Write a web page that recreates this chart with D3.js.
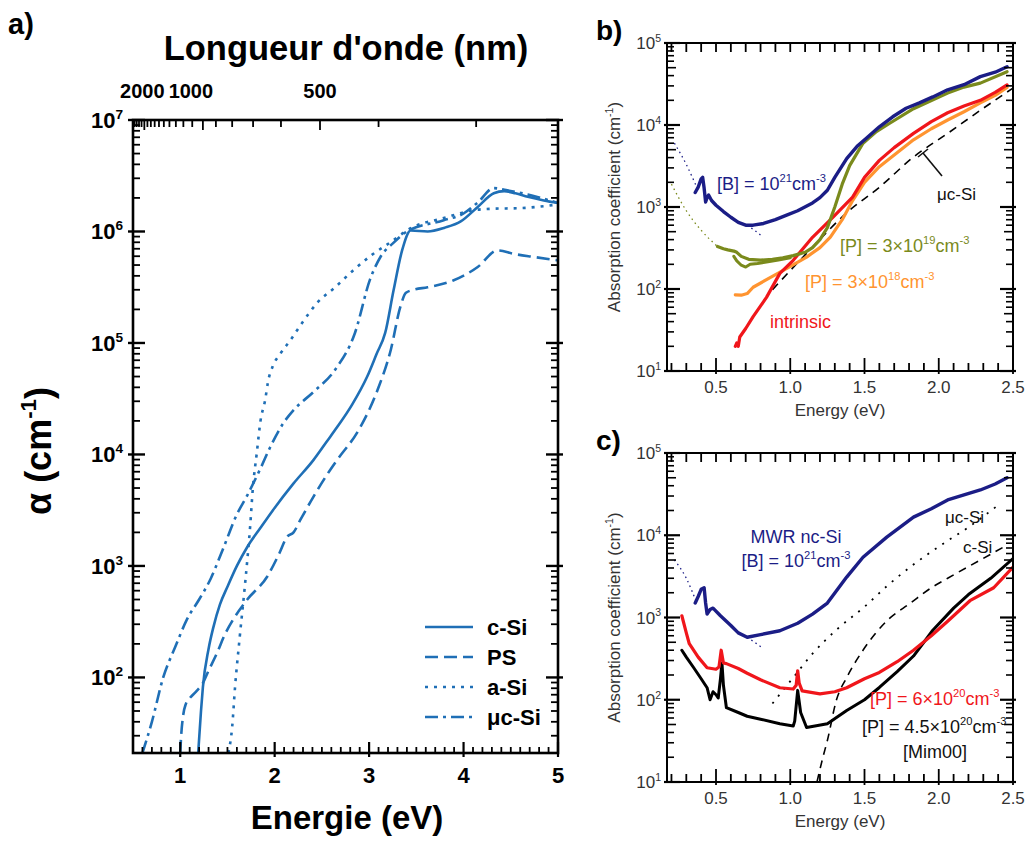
<!DOCTYPE html>
<html><head><meta charset="utf-8">
<script src="https://cdn.jsdelivr.net/npm/d3@7"></script>
<style>body{margin:0;background:#fff}svg{display:block}</style>
</head><body>
<svg id="fig" width="1032" height="843"></svg>
<script>
// ---------------- DATA ----------------
// Panel a : [energy (eV), alpha (cm-1)]
const aCSi = [[1.19,21],[1.22,50],[1.24,82],[1.3,180],[1.35,280],[1.42,450],[1.5,650],[1.6,1000],[1.71,1480],[1.85,2200],[1.98,3150],[2.2,5500],[2.41,8900],[2.55,13000],[2.66,17500],[2.82,28000],[2.98,50000],[3.08,80000],[3.17,123000],[3.26,300000],[3.35,680000],[3.44,1020000],[3.62,1000000],[3.8,1080000],[3.97,1230000],[4.15,1660000],[4.32,2200000],[4.43,2300000],[4.55,2200000],[4.68,2050000],[4.85,1900000],[5.0,1800000]];
const aPS = [[1.0,21],[1.01,30],[1.03,45],[1.06,58],[1.1,65],[1.17,75],[1.24,89],[1.3,115],[1.39,166],[1.47,240],[1.56,330],[1.71,500],[1.92,800],[2.05,1300],[2.13,1820],[2.2,2000],[2.27,2570],[2.41,4170],[2.55,6500],[2.66,8900],[2.89,16600],[3.09,38000],[3.23,87000],[3.33,210000],[3.39,282000],[3.47,300000],[3.62,316000],[3.89,363000],[4.15,480000],[4.36,676000],[4.53,630000],[4.75,590000],[5.0,550000]];
const aASi = [[1.51,21],[1.55,36],[1.58,81],[1.63,230],[1.69,740],[1.74,2240],[1.77,5100],[1.81,10200],[1.85,20000],[1.9,31000],[1.93,45000],[1.98,62000],[2.06,80000],[2.17,107000],[2.29,151000],[2.45,229000],[2.64,316000],[2.83,447000],[3.03,617000],[3.22,794000],[3.44,1070000],[3.79,1320000],[4.1,1550000],[4.3,1600000],[4.6,1620000],[5.0,1750000]];
const aMuc = [[0.6,21],[0.7,40],[0.82,100],[0.95,190],[1.07,330],[1.2,500],[1.32,760],[1.45,1400],[1.6,2900],[1.71,4300],[1.85,7500],[1.95,11500],[2.09,19000],[2.2,25000],[2.41,36300],[2.64,57500],[2.85,123000],[3.01,372000],[3.12,590000],[3.26,794000],[3.4,1000000],[3.79,1260000],[4.0,1450000],[4.15,1820000],[4.32,2450000],[4.45,2350000],[4.68,2150000],[5.0,1800000]];
const aSeriesNames = ["c-Si","PS","a-Si","μc-Si"];
const aWaveTicks = [2400,2300,2200,2100,2000,1900,1800,1700,1600,1500,1400,1300,1200,1100,1000,900,800,700,600,500,400,300];
const aWaveLabels = [2000,1000,500];

// Panel b
const bBlue = [[0.36,1500],[0.38,1750],[0.40,2200],[0.41,2300],[0.42,1700],[0.43,1150],[0.44,1300],[0.45,1400],[0.47,1200],[0.5,1050],[0.55,880],[0.6,750],[0.65,650],[0.7,600],[0.75,600],[0.82,630],[0.9,700],[0.98,800],[1.05,900],[1.15,1120],[1.2,1300],[1.25,1600],[1.3,2300],[1.38,3900],[1.45,5500],[1.52,7100],[1.6,9500],[1.69,12600],[1.78,16000],[1.87,18600],[1.96,22000],[2.06,26900],[2.17,31000],[2.28,38900],[2.38,44000],[2.46,51300]];
const bBlueDotA = [[0.22,6000],[0.3,3300],[0.37,1750]];
const bBlueDotB = [[0.71,600],[0.76,520],[0.81,440]];
const bOlive = [[0.51,330],[0.55,310],[0.58,300],[0.62,290],[0.64,280],[0.67,250],[0.72,230],[0.8,225],[0.88,230],[0.95,240],[1.02,255],[1.1,280],[1.15,320],[1.2,400],[1.25,560],[1.3,1000],[1.35,1900],[1.4,3200],[1.49,6000],[1.58,8300],[1.67,10500],[1.83,15800],[2.06,24500],[2.17,29000],[2.28,32400],[2.46,44700]];
const bOlive2 = [[0.62,250],[0.64,220],[0.67,195],[0.7,185],[0.73,200],[0.78,205],[0.85,215],[0.92,225],[1.0,240]];
const bOliveDot = [[0.2,1900],[0.3,900],[0.4,520],[0.51,330]];
const bOrange = [[0.63,85],[0.67,84],[0.71,88],[0.75,105],[0.84,130],[0.98,180],[1.11,245],[1.2,320],[1.27,430],[1.35,700],[1.42,1200],[1.5,2000],[1.6,3100],[1.7,4300],[1.83,6600],[1.95,9000],[2.06,11500],[2.17,14500],[2.28,18600],[2.38,23000],[2.46,28800]];
const bRed = [[0.63,20],[0.64,22],[0.65,20],[0.66,26],[0.7,33],[0.75,46],[0.84,79],[0.93,155],[1.02,224],[1.15,427],[1.29,760],[1.42,1320],[1.5,2300],[1.6,3700],[1.7,5300],[1.83,7900],[1.95,11000],[2.06,14100],[2.17,17000],[2.28,20000],[2.38,25000],[2.46,30900]];
const bMucSi = [[0.88,98],[1.15,324],[1.38,850],[1.6,1740],[1.83,4070],[2.06,7900],[2.28,15100],[2.5,28200]];

// Panel c
const cBlue = [[0.36,1500],[0.38,1800],[0.4,2200],[0.42,2300],[0.43,1500],[0.44,1100],[0.46,1250],[0.48,1300],[0.53,1050],[0.6,800],[0.65,650],[0.71,575],[0.8,620],[0.93,690],[1.05,850],[1.15,1100],[1.25,1500],[1.31,2100],[1.38,3100],[1.49,5400],[1.65,9500],[1.83,16600],[1.95,21000],[2.06,26900],[2.17,31000],[2.28,35500],[2.38,42000],[2.46,50000]];
const cBlueDotA = [[0.22,5000],[0.3,3000],[0.37,1500]];
const cBlueDotB = [[0.71,575],[0.76,500],[0.81,430]];
const cRed = [[0.27,1050],[0.3,650],[0.32,480],[0.38,330],[0.44,245],[0.5,235],[0.52,250],[0.535,400],[0.55,280],[0.57,275],[0.65,240],[0.71,210],[0.8,175],[0.93,140],[1.02,135],[1.04,150],[1.05,225],[1.06,160],[1.08,128],[1.2,118],[1.3,125],[1.38,140],[1.5,180],[1.6,215],[1.72,290],[1.83,400],[1.95,600],[2.06,900],[2.21,1600],[2.37,2300],[2.5,4100]];
const cBlack = [[0.27,400],[0.3,330],[0.35,245],[0.4,180],[0.44,140],[0.46,100],[0.48,125],[0.5,115],[0.515,105],[0.53,180],[0.54,280],[0.55,150],[0.57,80],[0.65,70],[0.71,63],[0.8,58],[0.93,51],[1.02,48],[1.03,55],[1.05,130],[1.07,70],[1.11,46],[1.25,51],[1.38,74],[1.5,100],[1.6,141],[1.72,220],[1.83,340],[1.96,700],[2.1,1300],[2.2,1900],[2.35,3000],[2.5,5200]];
const cMucSi = [[0.88,90],[1.02,186],[1.15,363],[1.33,760],[1.5,1350],[1.65,2400],[1.83,4400],[2.03,7900],[2.2,12500],[2.41,24000]];
const cCSi = [[1.18,10],[1.22,20],[1.25,32],[1.31,98],[1.38,186],[1.49,400],[1.65,910],[1.81,1500],[1.95,2300],[2.06,3000],[2.28,5000],[2.46,7600]];

const bcXTicks = [0.5,1.0,1.5,2.0,2.5];

// ---------------- DRAWING ----------------
const svg = d3.select("#fig");
const FONT = "'Liberation Sans', Arial, Helvetica, sans-serif";
const BLUE = "#1f6fb6";
const NAVY = "#1b1d86";
const OLIVE = "#7a8a1c";
const ORANGE = "#ff9430";
const RED = "#f0161b";

function richText(g, x, y, parts, size, opts = {}) {
  const t = g.append("text").attr("x", x).attr("y", y)
    .attr("font-family", FONT).attr("font-size", size)
    .attr("font-weight", opts.bold ? "bold" : "normal")
    .attr("fill", opts.fill || "#000")
    .attr("text-anchor", opts.anchor || "start");
  if (opts.transform) t.attr("transform", opts.transform);
  let raised = false;
  const sh = size * 0.42;
  parts.forEach(([s, sup]) => {
    const ts = t.append("tspan").text(s);
    if (sup && !raised) { ts.attr("dy", -sh).attr("font-size", size * 0.62); raised = true; }
    else if (sup) { ts.attr("font-size", size * 0.62); }
    else if (!sup && raised) { ts.attr("dy", sh); raised = false; }
  });
  return t;
}

function tick(g, x1, y1, x2, y2, w) {
  g.append("line").attr("x1", x1).attr("y1", y1).attr("x2", x2).attr("y2", y2)
    .attr("stroke", "#000").attr("stroke-width", w);
}

function logTickValues(lo, hi) {
  const out = [];
  for (let d = Math.floor(Math.log10(lo)); d <= Math.ceil(Math.log10(hi)); d++) {
    for (let m = 1; m <= 9; m++) {
      const v = m * Math.pow(10, d);
      if (v >= lo * 0.999 && v <= hi * 1.001) out.push({ v, m, major: m === 1 });
    }
  }
  return out;
}

// ===== Panel a =====
(function () {
  const L = 133, R = 558, T = 120, B = 753;
  const x = d3.scaleLinear().domain([0.5, 5]).range([L, R]);
  const y = d3.scaleLog().domain([21, 1e7]).range([B, T]);
  const g = svg.append("g");

  g.append("clipPath").attr("id", "clipA").append("rect")
    .attr("x", L).attr("y", T).attr("width", R - L).attr("height", B - T);

  const line = d3.line().x(d => x(d[0])).y(d => y(d[1])).curve(d3.curveMonotoneX);
  const styles = [
    { data: aCSi, dash: null },
    { data: aPS, dash: "13,6" },
    { data: aASi, dash: "3,6" },
    { data: aMuc, dash: "13,5,3,5" }
  ];
  const lg = g.append("g").attr("clip-path", "url(#clipA)");
  styles.forEach(s => {
    lg.append("path").attr("d", line(s.data)).attr("fill", "none")
      .attr("stroke", BLUE).attr("stroke-width", 2.6)
      .attr("stroke-dasharray", s.dash);
  });

  g.append("rect").attr("x", L).attr("y", T).attr("width", R - L).attr("height", B - T)
    .attr("fill", "none").attr("stroke", "#000").attr("stroke-width", 2.6);

  d3.range(5, 51).forEach(i => {
    const xx = x(i / 10);
    if (i % 10 === 0) tick(g, xx, B + 4, xx, B - 11, 2.2);
    else tick(g, xx, B, xx, B - 6, 1.8);
  });
  logTickValues(21, 1e7).forEach(t => {
    const yy = y(t.v);
    if (t.major) { tick(g, L - 5, yy, L + 12, yy, 2.4); tick(g, R + 5, yy, R - 12, yy, 2.4); }
    else { tick(g, L, yy, L + 7, yy, 1.8); tick(g, R, yy, R - 7, yy, 1.8); }
  });
  aWaveTicks.forEach(w => {
    const xx = x(1240 / w);
    const big = (w === 1000 || w === 500 || w === 2000);
    tick(g, xx, T, xx, T + (big ? 10 : 7), 1.8);
  });

  d3.range(2, 8).forEach(d => {
    richText(g, L - 10, y(Math.pow(10, d)) + 8, [["10", false], [String(d), true]], 22,
      { bold: true, anchor: "end" });
  });
  d3.range(1, 6).forEach(v => {
    g.append("text").attr("x", x(v)).attr("y", B + 30).attr("text-anchor", "middle")
      .attr("font-family", FONT).attr("font-weight", "bold").attr("font-size", 22).text(v);
  });
  const waveOffsets = { 2000: -2, 1000: -12, 500: 0 };
  aWaveLabels.forEach(w => {
    g.append("text").attr("x", x(1240 / w) + waveOffsets[w]).attr("y", 98).attr("text-anchor", "middle")
      .attr("font-family", FONT).attr("font-weight", "bold").attr("font-size", 20).text(w);
  });

  g.append("text").attr("x", 346).attr("y", 60).attr("text-anchor", "middle")
    .attr("font-family", FONT).attr("font-weight", "bold").attr("font-size", 34.5)
    .text("Longueur d'onde (nm)");
  g.append("text").attr("x", 347).attr("y", 829).attr("text-anchor", "middle")
    .attr("font-family", FONT).attr("font-weight", "bold").attr("font-size", 33)
    .text("Energie (eV)");
  richText(g, 0, 0, [["α (cm", false], ["-1", true], [")", false]], 36,
    { bold: true, anchor: "middle", transform: "translate(51,451) rotate(-90)" });

  styles.forEach((s, i) => {
    const yy = 627 + i * 30;
    g.append("line").attr("x1", 425).attr("x2", 473).attr("y1", yy).attr("y2", yy)
      .attr("stroke", BLUE).attr("stroke-width", 2.6).attr("stroke-dasharray", s.dash);
    g.append("text").attr("x", 487).attr("y", yy + 8).attr("font-family", FONT)
      .attr("font-weight", "bold").attr("font-size", 22).text(aSeriesNames[i]);
  });

  g.append("text").attr("x", 8).attr("y", 34).attr("font-family", FONT)
    .attr("font-weight", "bold").attr("font-size", 29).text("a)");
})();

// ===== Panels b & c =====
function smallPanel(T, B, id, letter) {
  const L = 667, R = 1013;
  const x = d3.scaleLinear().domain([0.17, 2.5]).range([L, R]);
  const y = d3.scaleLog().domain([10, 1e5]).range([B, T]);
  const g = svg.append("g");
  g.append("clipPath").attr("id", id).append("rect")
    .attr("x", L).attr("y", T).attr("width", R - L).attr("height", B - T);
  const lines = g.append("g").attr("clip-path", `url(#${id})`);
  const frame = g.append("g");
  frame.append("rect").attr("x", L).attr("y", T).attr("width", R - L).attr("height", B - T)
    .attr("fill", "none").attr("stroke", "#000").attr("stroke-width", 2);
  d3.range(2, 26).forEach(i => {
    const xx = x(i / 10);
    const major = i % 5 === 0;
    const len = major ? 13 : 8;
    tick(frame, xx, B + (major ? 3 : 0), xx, B - len, 1.8);
    tick(frame, xx, T, xx, T + 9, 1.8);
  });
  logTickValues(10, 1e5).forEach(t => {
    const yy = y(t.v);
    const len = t.major ? 13 : (t.m === 5 ? 9 : 7);
    tick(frame, L - (t.major ? 3 : 0), yy, L + len, yy, t.major ? 2.2 : 1.6);
    tick(frame, R + (t.major ? 3 : 0), yy, R - len, yy, t.major ? 2.2 : 1.6);
  });
  d3.range(1, 6).forEach(d => {
    richText(frame, L - 6, y(Math.pow(10, d)) + 6, [["10", false], [String(d), true]], 17,
      { anchor: "end", fill: "#333" });
  });
  bcXTicks.forEach(v => {
    frame.append("text").attr("x", x(v)).attr("y", B + 22).attr("text-anchor", "middle")
      .attr("font-family", FONT).attr("font-size", 17).attr("fill", "#333").text(v.toFixed(1));
  });
  frame.append("text").attr("x", 840).attr("y", B + 45).attr("text-anchor", "middle")
    .attr("font-family", FONT).attr("font-size", 17).attr("fill", "#333").text("Energy (eV)");
  richText(frame, 0, 0, [["Absorption coefficient (cm", false], ["-1", true], [")", false]], 17,
    { anchor: "middle", fill: "#333", transform: `translate(620,${(T + B) / 2}) rotate(-90)` });
  frame.append("text").attr("x", 596).attr("y", T - 3).attr("font-family", FONT)
    .attr("font-weight", "bold").attr("font-size", 28).text(letter);
  return { x, y, g, lines };
}

function drawSeries(p, data, color, width, dash, curve) {
  const line = d3.line().x(d => p.x(d[0])).y(d => p.y(d[1])).curve(curve || d3.curveLinear);
  p.lines.append("path").attr("d", line(data)).attr("fill", "none")
    .attr("stroke", color).attr("stroke-width", width)
    .attr("stroke-linejoin", "round").attr("stroke-linecap", dash ? "butt" : "round")
    .attr("stroke-dasharray", dash || null);
}

// ----- Panel b -----
(function () {
  const p = smallPanel(43, 371, "clipB", "b)");
  drawSeries(p, bBlueDotA, NAVY, 1.3, "1.5,3.5", d3.curveMonotoneX);
  drawSeries(p, bBlueDotB, NAVY, 1.3, "1.5,3.5");
  drawSeries(p, bOliveDot, OLIVE, 1.3, "1.5,3.5", d3.curveMonotoneX);
  drawSeries(p, bMucSi, "#000", 1.6, "8,6", d3.curveMonotoneX);
  drawSeries(p, bOrange, ORANGE, 3.2);
  drawSeries(p, bRed, RED, 3.2);
  drawSeries(p, bOlive2, OLIVE, 3);
  drawSeries(p, bOlive, OLIVE, 3.2);
  drawSeries(p, bBlue, NAVY, 3.4);

  const g = p.g;
  richText(g, 717, 190, [["[B] = 10", false], ["21", true], ["cm", false], ["-3", true]], 18, { fill: NAVY });
  richText(g, 840, 252, [["[P] = 3×10", false], ["19", true], ["cm", false], ["-3", true]], 18, { fill: OLIVE });
  richText(g, 805, 288, [["[P] = 3×10", false], ["18", true], ["cm", false], ["-3", true]], 18, { fill: ORANGE });
  g.append("text").attr("x", 770).attr("y", 328).attr("font-family", FONT).attr("font-size", 18)
    .attr("fill", RED).text("intrinsic");
  g.append("text").attr("x", 937).attr("y", 200).attr("font-family", FONT).attr("font-size", 17)
    .attr("fill", "#111").text("μc-Si");
  g.append("line").attr("x1", 923).attr("y1", 153).attr("x2", 942).attr("y2", 176)
    .attr("stroke", "#111").attr("stroke-width", 1.6);
  g.append("line").attr("x1", 918).attr("y1", 157).attr("x2", 928).attr("y2", 149)
    .attr("stroke", "#111").attr("stroke-width", 1.6);
})();

// ----- Panel c -----
(function () {
  const p = smallPanel(453, 782, "clipC", "c)");
  drawSeries(p, cBlueDotA, NAVY, 1.3, "1.5,3.5", d3.curveMonotoneX);
  drawSeries(p, cBlueDotB, NAVY, 1.3, "1.5,3.5");
  drawSeries(p, cMucSi, "#000", 1.8, "2,7", d3.curveMonotoneX);
  drawSeries(p, cCSi, "#000", 1.6, "8,6", d3.curveMonotoneX);
  drawSeries(p, cBlack, "#000", 3);
  drawSeries(p, cRed, RED, 3.2);
  drawSeries(p, cBlue, NAVY, 3.4);

  const g = p.g;
  g.append("text").attr("x", 796).attr("y", 543).attr("text-anchor", "middle")
    .attr("font-family", FONT).attr("font-size", 18).attr("fill", NAVY).text("MWR nc-Si");
  richText(g, 796, 567, [["[B] = 10", false], ["21", true], ["cm", false], ["-3", true]], 18,
    { fill: NAVY, anchor: "middle" });
  g.append("text").attr("x", 945).attr("y", 523).attr("font-family", FONT).attr("font-size", 17)
    .attr("fill", "#111").text("μc-Si");
  g.append("text").attr("x", 963).attr("y", 553).attr("font-family", FONT).attr("font-size", 17)
    .attr("fill", "#111").text("c-Si");
  richText(g, 870, 705, [["[P] = 6×10", false], ["20", true], ["cm", false], ["-3", true]], 18, { fill: RED });
  richText(g, 862, 733, [["[P] = 4.5×10", false], ["20", true], ["cm", false], ["-3", true]], 18, { fill: "#111" });
  g.append("text").attr("x", 903).attr("y", 758).attr("font-family", FONT).attr("font-size", 18)
    .attr("fill", "#111").text("[Mim00]");
})();
</script>
</body></html>
